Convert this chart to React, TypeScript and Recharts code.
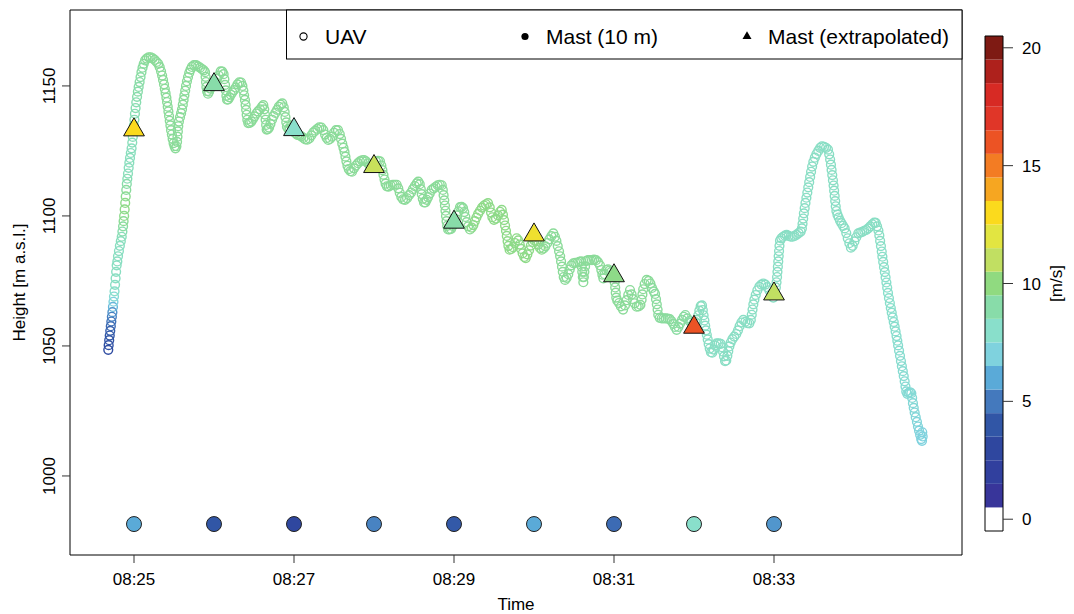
import React from "react";
import { ComposedChart, Scatter, XAxis, YAxis, ReferenceArea } from "recharts";

const W = 1074;
const H = 614;
const FONT = '"Liberation Sans", Arial, Helvetica, sans-serif';

// colour bar, one colour per m/s from 0 to 20
const speedPalette = [
  "#FFFFFF", "#38359A", "#31409E", "#2F479F", "#3156A6", "#4479BD", "#5AAAD8",
  "#7FD2DE", "#89DFCB", "#88DCA9", "#90DA80", "#C1DF62", "#E2E541", "#FBDA1D",
  "#F6A621", "#F37C23", "#EC5324", "#E03628", "#D72A24", "#AE211C", "#7E1A13",
];
const speedLevels = [0, 1, 2, 3, 4, 5, 6, 7, 8, 9, 10, 11, 12, 13, 14, 15, 16, 17, 18, 19, 20];
const speedTicks = [0, 5, 10, 15, 20];

// time axis in minutes after 08:00
const timeTicks = [25, 27, 29, 31, 33];
const heightTicks = [1000, 1050, 1100, 1150];
const xDomain: [number, number] = [24.2, 35.35];
const yDomain: [number, number] = [969.6, 1179.2];

// mast, one value per minute
const mastMinutes = [25, 26, 27, 28, 29, 30, 31, 32, 33];
const mastExtrapHeight = [1133.1, 1150.5, 1133.2, 1119, 1097.6, 1092.7, 1077, 1057.2, 1070];
const mastExtrapSpeed = [13, 9, 8, 11.2, 9, 12.5, 9.8, 16, 11];
const mast10Level = 981.5;
const mast10Speed = [6, 4, 3, 5.2, 4.1, 6, 4.6, 8, 5.6];

// UAV track: [seconds after 08:24:00, height m a.s.l., wind speed m/s]
const uavTrack: [number, number, number][] = [
  [40.7,1048.5,3.4],[41.0,1050.3,3.6],[41.4,1052.2,3.8],[41.8,1054,4],[42.2,1055.8,4.2],[42.6,1057.6,4.5],
  [43.0,1059.4,4.8],[43.4,1061.2,5.1],[43.8,1063,5.5],[44.2,1065,6.3],[44.6,1067,7],[45.0,1069,7.6],
  [45.4,1071,8],[45.8,1073.5,8.2],[46.2,1076,8.3],[46.6,1078.5,8.3],[47.0,1081,8.3],[47.5,1082.5,8.3],
  [48.0,1084.5,8.3],[48.7,1086.5,8.3],[49.4,1088.5,8.3],[50.1,1090.3,8.4],[50.8,1092,8.5],[51.3,1094,8.8],
  [51.8,1096,9.2],[52.2,1098,9.5],[52.6,1100,9.7],[53.0,1102.5,9.8],[53.4,1105,9.8],[53.8,1107.5,9.6],
  [54.2,1110,9.3],[54.6,1112.3,9],[55.0,1114.3,8.7],[55.5,1116.3,8.5],[56.0,1118.5,8.4],[56.5,1120.5,8.4],
  [57.0,1122.3,8.4],[57.6,1124.2,8.4],[58.2,1126,8.4],[58.7,1128.2,8.5],[59.1,1130.4,8.5],[59.5,1132.6,8.5],
  [59.9,1134.8,8.6],[60.3,1137,8.6],[60.7,1139.3,8.7],[61.2,1141.5,8.8],[61.7,1143.7,8.8],[62.3,1145.8,8.9],
  [62.9,1147.8,9],[63.5,1149.6,9],[64.2,1151.5,9.1],[64.9,1153.4,9.1],[65.6,1155.3,9.2],[66.4,1157,9.2],
  [67.3,1158.5,9.3],[68.3,1159.8,9.3],[69.5,1160.5,9.4],
  [71.0,1161,9.4],[72.5,1161,9.4],[74.0,1160.6,9.4],[75.5,1160,9.4],[77.0,1159.2,9.4],[78.2,1158.5,9.4],
  [79.3,1157.2,9.4],[80.3,1155.6,9.4],[81.1,1154,9.4],[81.8,1152.3,9.4],[82.5,1150.6,9.4],[83.1,1148.9,9.4],
  [83.7,1147.2,9.4],[84.3,1145.5,9.4],[84.8,1143.8,9.4],[85.3,1142,9.4],[85.8,1140.2,9.4],[86.3,1138.4,9.4],
  [86.8,1136.6,9.4],[87.3,1134.8,9.4],[87.8,1133,9.4],[88.4,1131.3,9.4],[89.0,1129.6,9.4],[89.7,1128,9.4],
  [90.4,1126.8,9.4],[91.1,1126,9.4],[91.8,1126.8,9.4],[92.3,1128.5,9.4],[92.6,1130.5,9.4],[92.9,1132.5,9.4],
  [93.2,1134.5,9.4],[93.7,1136.3,9.4],[94.5,1138,9.4],[95.3,1139.5,9.4],[96.0,1141,9.4],[96.6,1142.8,9.4],
  [97.2,1144.6,9.4],[97.8,1146.4,9.4],[98.4,1148.2,9.4],[99.0,1150,9.4],[99.7,1151.8,9.4],[100.5,1153.4,9.4],
  [101.4,1155,9.4],[102.4,1156.3,9.4],[103.4,1157.3,9.4],[105,1158,9.4],[106.5,1158,9.4],[108,1157.5,9.4],
  [109.5,1157,9.4],[111,1156.5,9.4],[112.3,1156,9.4],[113.3,1155.3,9.4],[113.7,1153.5,9.4],[114.0,1151.5,9.4],
  [114.3,1149.6,9.4],[114.8,1148,9.4],[115.5,1147,9.4],[116.3,1147.8,9.4],[117.2,1149,9.4],[118.5,1149.6,9.4],
  [119.8,1150.2,9.4],[121,1151.5,9.4],[122.3,1152.8,9.4],[123.6,1154,9.4],[125,1155.6,9.4],[126.2,1155.5,9.4],
  [127.2,1154.5,9.4],[127.8,1152.6,9.4],[128.3,1150.4,9.4],[128.8,1148.3,9.4],[129.3,1146.2,9.4],[129.8,1144.7,9.4],
  [130.6,1144.8,9.4],[131.6,1145.6,9.4],[132.6,1146.6,9.4],[133.7,1147.5,9.4],[135,1148.4,9.4],[136.3,1149.4,9.4],
  [137.6,1150.6,9.4],[139,1151.4,9.4],[140.3,1151.3,9.4],[141.3,1150,9.4],[142,1148.2,9.4],[142.6,1146.4,9.4],
  [143.2,1144.6,9.4],[143.7,1142.7,9.4],[144.1,1140.8,9.4],[144.5,1138.9,9.4],[145,1137,9.4],[145.7,1135.7,9.4],
  [146.8,1135.8,9.4],[148,1136.3,9.4],[149.2,1137.3,9.4],[150.4,1138.3,9.4],[151.7,1139.4,9.4],[153,1140.2,9.4],
  [154.5,1141,9.4],[156,1142,9.4],[157,1142.6,9.4],[157.7,1141,9.4],[158.2,1139,9.4],[158.7,1137,9.4],
  [159.1,1135,9.4],[159.5,1133.2,9.4],[160.4,1133.4,9.4],[161.3,1134,9.4],[162.3,1135.4,9.4],[163.5,1137,9.4],
  [164.7,1138.4,9.4],[166,1139.6,9.4],[167.3,1140.8,9.4],[168.6,1142,9.4],[170,1142.8,9.4],[171.2,1143.3,9.4],
  [172.3,1141.8,9.4],[173,1140,9.4],[173.6,1138,9.4],[174.2,1136,9.4],[174.7,1134.3,9.4],[175.7,1133.5,9.4],
  [176.7,1133.2,9.4],[177.8,1134.8,9.4],[178.8,1134.3,9.4],[179.8,1133,9.4],[181,1131.8,9.4],[182.5,1131.2,9.4],
  [184,1131,9.4],[185.5,1130.6,9.4],[187,1130,9.4],[188.5,1129.4,9.4],[190,1129.3,9.4],[191.5,1129.8,9.4],
  [193,1131,9.4],[194.5,1132.1,9.4],[196,1132.8,9.4],[197.5,1133.5,9.4],[199,1134.1,9.4],[200.5,1134,9.4],
  [202,1133,9.4],[203.3,1131.3,9.4],[204.5,1130,9.4],[205.7,1129.2,9.4],[207,1129.6,9.4],[208.5,1130.5,9.4],
  [210,1132,9.4],[211.5,1133,9.4],[213,1133,9.4],[214.3,1131.5,9.4],[215.3,1129.6,9.4],[216.2,1127.8,9.4],
  [217.1,1126.2,9.4],[217.9,1124.6,9.4],[218.6,1122.8,9.4],[219.3,1121,9.4],[220.1,1119.3,9.4],[221.1,1118,9.4],
  [222.3,1117.2,9.4],[223.5,1117,9.4],[225,1118.3,9.4],[226.5,1119.4,9.4],[228,1120.3,9.4],[229.5,1121,9.4],
  [231,1121.4,9.4],[232.5,1121.5,9.4],[234,1121,9.4],[235.5,1120.2,9.4],[237,1119.3,9.4],[238.5,1119.6,9.4],
  [240,1120.3,9.4],[241.5,1121,9.4],[243,1121.2,9.4],[244.5,1121,9.4],[245.5,1119.4,9.4],[246.3,1117.6,9.4],
  [247.1,1115.8,9.4],[247.9,1114,9.4],[248.7,1112.4,9.4],[249.7,1111.4,9.4],[251,1111.3,9.4],[252.5,1111.7,9.4],
  [254,1112,9.4],[255.5,1112,9.4],[257,1112,9.4],[258.2,1110.6,9.4],[259.3,1108.9,9.4],[260.5,1107.3,9.4],
  [261.8,1106.4,9.4],[263.3,1106.2,9.4],[264.8,1106.8,9.4],[266.3,1108,9.4],[267.8,1109,9.4],[269.2,1110.3,9.4],
  [270.6,1111.5,9.4],[272,1112.5,9.4],[273.2,1113.2,9.4],[274.3,1112.2,9.4],[275.1,1110.3,9.4],[275.8,1108.4,9.4],
  [276.6,1106.6,9.4],[277.5,1105.2,9.4],[278.5,1105.2,9.4],[279.5,1106.2,9.4],[280.5,1107.2,9.4],[281.8,1108.6,9.4],
  [283.3,1110,9.4],[284.8,1110.6,9.4],[286.3,1111.2,9.4],[287.8,1111.8,9.4],[289.3,1112,9.4],[290.8,1111.8,9.4],
  [291.6,1110,9.4],[292.2,1108,9.4],[292.7,1106,9.4],[293.2,1104,9.4],[293.6,1102,9.4],[294,1100,9.4],
  [294.4,1098,9.4],[294.9,1096.2,9.4],[295.6,1094.8,9.4],[296.7,1094.8,9.4],[297.8,1095,9.4],[299,1096.2,9.4],
  [300.2,1097.4,9.4],[301.3,1098.8,9.4],[302.3,1100.2,9.4],[303.3,1101.8,9.4],[304.5,1103.4,9.4],[305.7,1103.5,9.4],
  [306.8,1103,9.4],[307.7,1101.5,9.4],[308.5,1099.6,9.4],[309.5,1097.6,9.4],[310.6,1096,9.4],[312,1094.8,9.5],
  [313.3,1095.5,9.7],[314.5,1096.5,9.8],[315.6,1098,9.8],[316.8,1099.4,9.8],[318.1,1100.8,9.8],[319.5,1102,9.8],
  [321,1103.2,9.8],[322.5,1104,9.8],[324,1104.5,9.8],[325.5,1104.9,9.8],[326.8,1103.3,9.8],[327.8,1101.3,9.8],
  [328.8,1099.5,9.8],[330,1098.5,9.8],[331.5,1099,9.8],[333,1100.2,9.8],[334.5,1101.6,9.8],[335.8,1102.3,9.8],
  [336.7,1100.5,9.8],[337.5,1098.4,9.8],[338.3,1096.3,9.8],[339,1094.3,9.8],[339.6,1092.3,9.8],[340.2,1090.3,9.8],
  [340.8,1088.5,9.8],[341.7,1087,9.8],[343,1087.3,9.8],[344.3,1088,9.8],[345.6,1089.6,9.8],[347,1091.4,9.8],
  [348.2,1090.6,9.8],[349.3,1089,9.8],[350.3,1087.3,9.8],[351.5,1085.6,9.8],[352.7,1084.2,9.8],[353.8,1083.8,9.8],
  [355,1085.2,9.8],[356.3,1086.8,9.8],[357.6,1088.6,9.8],[359,1090,9.8],[360.4,1090.5,9.8],[361.8,1090.2,9.8],
  [363.2,1089,9.8],[364.5,1087.7,9.8],[365.8,1087,9.7],[367.2,1087.5,9.5],[368.5,1088.3,9.4],[370,1089.6,9.4],
  [371.5,1091,9.4],[373,1092.2,9.4],[374.5,1093.3,9.4],[375.7,1092,9.4],[376.8,1090.4,9.4],[377.8,1088.4,9.4],
  [378.8,1086.4,9.4],[379.6,1084.5,9.4],[380.3,1082.5,9.4],[381,1080.5,9.4],[381.6,1078.5,9.4],[382.3,1076.5,9.4],
  [383.3,1075.4,9.4],[384.5,1076.2,9.4],[385.7,1077.6,9.4],[386.8,1079.4,9.4],[388,1081,9.4],[389.5,1081.8,9.4],
  [391,1082,9.4],[392.5,1082,9.4],[394,1082.3,9.4],[395.3,1082.5,9.4],[395.8,1080.5,9.4],[396.2,1078.5,9.4],
  [396.6,1076.5,9.4],[397,1074.5,9.4],[397.4,1076.5,9.4],[397.8,1078.5,9.4],[398.3,1080.6,9.4],[399,1082.6,9.4],
  [400.5,1083,9.4],[402,1083,9.4],[403.5,1083,9.4],[405,1083.2,9.4],[406.5,1083,9.4],[408,1082.2,9.4],
  [409.5,1081,9.4],[410.5,1079.2,9.4],[411.3,1077.4,9.4],[412,1076,9.4],[413,1077.6,9.4],[414.2,1079.2,9.4],
  [415.5,1079.5,9.4],[416.8,1079,9.4],[418,1078.5,9.4],[419.2,1077.8,9.4],[420,1076.5,9.4],[420.5,1074.5,9.4],
  [420.9,1072.5,9.4],[421.3,1070.5,9.4],[421.7,1068.6,9.4],[422.5,1067.4,9.4],[423.8,1066.5,9.4],[425.2,1065.2,9.4],
  [426.8,1064,9.4],[428.2,1065.6,9.4],[429.5,1067.6,9.4],[430.7,1069.6,9.4],[432,1071.5,9.4],[433.2,1069.8,9.4],
  [434.3,1068,9.4],[435.5,1066.4,9.4],[437,1065.1,9.4],[438.5,1065.2,9.4],[439.8,1065.8,9.4],[440.7,1067.8,9.4],
  [441.3,1069.8,9.4],[441.9,1071.8,9.4],[443,1073.8,9.4],[444.5,1075.4,9.4],[446,1075,9.4],[447.3,1074,9.4],
  [448.5,1072.3,9.3],[449.8,1071,9.3],[450.8,1070,9.3],[451.5,1068,9.3],[452.1,1066,9.3],[452.7,1064,9.3],
  [453.2,1062,9.3],[454.3,1060.8,9.3],[455.8,1060.6,9.3],[457.3,1060.6,9.3],[458.8,1060.6,9.3],[460.3,1060.5,9.3],
  [461.8,1060.3,9.3],[463.2,1059.5,9.3],[464.5,1058.5,9.3],[465.7,1057.3,9.2],[467,1056.2,9.2],[468.3,1057.3,9.2],
  [469.5,1058.6,9.2],[471,1060,9.2],[472.3,1061.2,9.2],[473.5,1061.9,9.2],[475,1060.6,9.2],[476.5,1059.6,9.1],
  [478,1059,9],[479.5,1058.6,8.9],[481,1059.2,8.8],[482.3,1060,8.7],[483.2,1061.8,8.6],[484,1063.6,8.5],
  [485,1065.3,8.4],[486,1065.6,8.3],[486.6,1063.8,8.3],[487.2,1061.8,8.2],[487.8,1059.8,8.2],[488.4,1057.8,8.2],
  [489,1056,8.2],[489.6,1054.3,8.2],[490.3,1052.5,8.2],[491,1050.7,8.2],[491.8,1049,8.2],[492.7,1047.6,8.2],
  [493.7,1047.4,8.2],[494.7,1048.6,8.2],[495.7,1050.2,8.2],[497,1051,8.2],[498.5,1051,8.2],[500,1050.8,8.2],
  [501,1049.5,8.2],[501.8,1047.8,8.2],[502.5,1046,8.2],[503.3,1044.2,8.2],[504.2,1044.4,8.2],[505,1046.2,8.2],
  [505.7,1048,8.2],[506.5,1049.8,8.2],[507.5,1051.3,8.2],[508.8,1052.6,8.2],[510.2,1053.6,8.2],[511.7,1054.6,8.2],
  [513,1056,8.2],[514.2,1057.6,8.2],[515.5,1059,8.2],[517,1060,8.2],[518.5,1059.3,8.2],[520,1058.8,8.2],
  [521.5,1058.7,8.2],[522.6,1060,8.2],[523.3,1062,8.2],[523.9,1064,8.2],[524.5,1066,8.2],[525.3,1067.8,8.2],
  [526.3,1069.6,8.2],[527.5,1071.4,8.2],[529,1072.8,8.2],[530.5,1073.6,8.2],[532,1074,8.2],[533.5,1073.6,8.2],
  [535,1072.6,8.2],[536.5,1071.4,8.2],[538,1070,8.2],[539.5,1068.6,8.2],[540.6,1070.5,8.2],[541.4,1072.5,8.2],
  [541.9,1074.5,8.2],[542.3,1076.5,8.2],[542.6,1078.5,8.2],[542.9,1080.5,8.2],[543.2,1082.5,8.2],[543.5,1084.5,8.2],
  [543.8,1086.5,8.2],[544.1,1088.5,8.2],[544.5,1090.5,8.2],[545.5,1091.4,8.2],[546.8,1092,8.2],[548.2,1092.4,8.2],
  [549.5,1092.7,8.2],[551,1092.3,8.2],[552.5,1092,8.2],[554,1092,8.2],[555.5,1092.3,8.2],[557,1092.8,8.2],
  [558.5,1093.4,8.2],[560,1094,8.2],[560.9,1095.2,8.2],[561.4,1097,8.2],[561.9,1099,8.2],[562.4,1101,8.2],
  [563,1103,8.2],[563.6,1105,8.2],[564.3,1107,8.2],[565,1109,8.2],[565.7,1111,8.2],[566.4,1113,8.2],
  [567.1,1115,8.2],[567.8,1117,8.2],[568.6,1119,8.2],[569.5,1120.8,8.2],[570.6,1122.4,8.2],[571.8,1123.8,8.2],
  [573.2,1125,8.2],[574.6,1126.2,8.2],[576,1126.8,8.2],[577.5,1126.6,8.2],[579,1126.2,8.2],[580.5,1125.5,8.2],
  [581.4,1123.7,8.2],[582.1,1121.7,8.2],[582.7,1119.7,8.2],[583.2,1117.7,8.2],[583.7,1115.7,8.2],[584.2,1113.7,8.2],
  [584.7,1111.7,8.2],[585.1,1109.7,8.2],[585.5,1107.7,8.2],[585.9,1105.7,8.2],[586.3,1103.7,8.2],[586.8,1101.9,8.2],
  [587.6,1100.5,8.2],[588.5,1099.4,8.2],[589.5,1098.2,8.2],[590.6,1097.2,8.2],[591.8,1096.2,8.2],[593,1095.2,8.2],
  [594.2,1093.4,8.2],[595.3,1091.4,8.2],[596.5,1089.5,8.2],[597.7,1087.8,8.2],[599,1088.5,8.2],[600.3,1090.2,8.2],
  [601.7,1091.8,8.2],[603.2,1093.3,8.2],[604.7,1093.6,8.2],[606.2,1093.9,8.2],[607.7,1094.3,8.2],[609.2,1094.6,8.2],
  [610.7,1095.2,8.2],[612.2,1096,8.2],[613.7,1096.8,8.2],[615.2,1097.4,8.2],[616.3,1097.3,8.2],[617.3,1096,8.2],
  [618.3,1094.4,8.2],[619,1092.5,8.2],[619.6,1090.4,8.2],[620.2,1088.4,8.1],[620.8,1086.3,8.1],[621.3,1084.3,8.1],
  [621.9,1082.3,8.1],[622.5,1080.3,8.1],[623.1,1078.4,8.1],[623.7,1076.4,8],[624.3,1074.4,8],[624.9,1072.4,8],
  [625.5,1070.4,8],[626.2,1068.4,8],[626.9,1066.5,8],[627.6,1064.6,8],[628.3,1062.8,8],[629,1061,7.9],
  [629.8,1059.2,7.9],[630.5,1057.4,7.9],[631.2,1055.6,7.9],[631.9,1053.8,7.9],[632.5,1052,7.9],[633.1,1050.2,7.8],
  [633.8,1048.2,7.8],[634.5,1046.2,7.8],[635.2,1044.2,7.8],[635.9,1042.2,7.8],[636.6,1040.3,7.7],[637.3,1038.4,7.7],
  [638,1036.4,7.7],[638.6,1034.4,7.6],[639.2,1032.5,7.6],[640,1031.6,7.6],[641,1032,7.6],[642,1032.2,7.5],
  [643,1031.8,7.5],[643.6,1030,7.5],[644.2,1028,7.4],[644.8,1026.2,7.4],[645.5,1024.4,7.3],[646.3,1022.6,7.3],
  [647.2,1020.8,7.2],[648,1019,7.2],[648.8,1017.4,7.1],[649.6,1015.8,7.1],[650.4,1014.2,7],[651,1013.5,7],
  [651.5,1015.2,7],[651.2,1016.8,7],
];

function hexToRgb(h: string) {
  return [parseInt(h.slice(1, 3), 16), parseInt(h.slice(3, 5), 16), parseInt(h.slice(5, 7), 16)];
}

function speedColor(v: number) {
  const i = Math.max(0, Math.min(19, Math.floor(v)));
  const f = Math.max(0, Math.min(1, v - i));
  const a = hexToRgb(speedPalette[i]);
  const b = hexToRgb(speedPalette[i + 1]);
  const c = a.map((x, k) => Math.round(x + (b[k] - x) * f));
  return `rgb(${c[0]},${c[1]},${c[2]})`;
}

const uavData = uavTrack.map(([s, h, v]) => ({ x: 24 + s / 60, y: h, v }));
const extrapData = mastMinutes.map((m, i) => ({ x: m, y: mastExtrapHeight[i], v: mastExtrapSpeed[i] }));
const mast10Data = mastMinutes.map((m, i) => ({ x: m, y: mast10Level, v: mast10Speed[i] }));

const fmtTime = (m: number) => `08:${String(m).padStart(2, "0")}`;

const UavRing = (p: any) => (
  <circle cx={p.cx} cy={p.cy} r={4.4} fill="none" stroke={speedColor(p.payload.v)} strokeWidth={1.4} />
);

const Triangle = (p: any) => {
  const r = 12;
  const xc = r * 0.866;
  const pts = `${p.cx},${p.cy - r} ${p.cx + xc},${p.cy + r / 2} ${p.cx - xc},${p.cy + r / 2}`;
  return <polygon points={pts} fill={speedColor(p.payload.v)} stroke="#111" strokeWidth={1} />;
};

const MastDot = (p: any) => (
  <circle cx={p.cx} cy={p.cy} r={7.5} fill={speedColor(p.payload.v)} stroke="#222" strokeWidth={1} />
);

const HeightTick = (p: any) => (
  <text
    x={p.x}
    y={p.y}
    transform={`rotate(-90, ${p.x}, ${p.y})`}
    textAnchor="middle"
    fontSize={17}
    fill="#000"
  >
    {p.payload.value}
  </text>
);

export default function App() {
  return (
    <div style={{ position: "absolute", left: 0, top: 0, width: W, height: H, fontFamily: FONT, background: "#fff" }}>
      <div style={{ position: "absolute", left: 0, top: 0 }}>
        <ComposedChart width={W} height={H} margin={{ top: 10, right: 112, bottom: 19, left: 10 }}>
          <XAxis
            type="number"
            dataKey="x"
            domain={xDomain}
            allowDataOverflow
            ticks={timeTicks}
            interval={0}
            tickFormatter={fmtTime}
            height={40}
            tickSize={8}
            tickMargin={10}
            axisLine={false}
            tickLine={{ stroke: "#333" }}
            tick={{ fill: "#000", fontSize: 17 }}
          />
          <YAxis
            type="number"
            dataKey="y"
            domain={yDomain}
            allowDataOverflow
            ticks={heightTicks}
            interval={0}
            width={60}
            tickSize={8}
            tickMargin={7}
            axisLine={false}
            tickLine={{ stroke: "#333" }}
            tick={HeightTick}
          />
          <Scatter data={uavData} shape={UavRing} isAnimationActive={false} />
          <Scatter data={extrapData} shape={Triangle} isAnimationActive={false} />
          <Scatter data={mast10Data} shape={MastDot} isAnimationActive={false} />
          <ReferenceArea
            x1={xDomain[0]}
            x2={xDomain[1]}
            y1={yDomain[0]}
            y2={yDomain[1]}
            fill="none"
            stroke="#000"
            strokeWidth={1}
          />
        </ComposedChart>
      </div>

      {/* colour bar */}
      <div style={{ position: "absolute", left: 0, top: 0 }}>
        <ComposedChart
          width={W}
          height={H}
          data={[{ x: 0 }, { x: 1 }]}
          margin={{ top: 36, right: 31, bottom: 83, left: 985 }}
        >
          <XAxis type="number" dataKey="x" domain={[0, 1]} hide />
          <YAxis
            type="number"
            orientation="right"
            domain={[-0.5, 20.5]}
            allowDataOverflow
            ticks={speedTicks}
            interval={0}
            width={40}
            tickSize={10}
            tickMargin={9}
            axisLine={false}
            tickLine={{ stroke: "#333" }}
            tick={{ fill: "#000", fontSize: 17 }}
          />
          {speedLevels.map((v) => (
            <ReferenceArea
              key={v}
              x1={0}
              x2={1}
              y1={v - 0.5}
              y2={v + 0.5}
              fill={speedPalette[v]}
              fillOpacity={1}
              stroke="none"
            />
          ))}
          <ReferenceArea x1={0} x2={1} y1={-0.5} y2={20.5} fill="none" stroke="#000" strokeWidth={1} />
        </ComposedChart>
      </div>

      {/* titles and legend */}
      <svg width={W} height={H} style={{ position: "absolute", left: 0, top: 0, pointerEvents: "none" }}>
        <text x={516} y={609.5} textAnchor="middle" fontSize={17} fill="#000">Time</text>
        <text transform="translate(25,282.5) rotate(-90)" textAnchor="middle" fontSize={17} fill="#000">
          Height [m a.s.l.]
        </text>
        <text transform="translate(1062,283.5) rotate(-90)" textAnchor="middle" fontSize={17} fill="#000">
          [m/s]
        </text>
        <rect x={286.5} y={10} width={675.5} height={49} fill="#fff" stroke="#000" strokeWidth={1} />
        <circle cx={303.5} cy={36.5} r={3.6} fill="none" stroke="#000" strokeWidth={1.1} />
        <text x={325} y={44} fontSize={21} fill="#000">UAV</text>
        <circle cx={525} cy={36.5} r={3.6} fill="#000" />
        <text x={546} y={44} fontSize={21} fill="#000">Mast (10 m)</text>
        <polygon points="747,31.3 751.5,39.1 742.5,39.1" fill="#000" />
        <text x={768} y={44} fontSize={21} fill="#000">Mast (extrapolated)</text>
      </svg>
    </div>
  );
}
